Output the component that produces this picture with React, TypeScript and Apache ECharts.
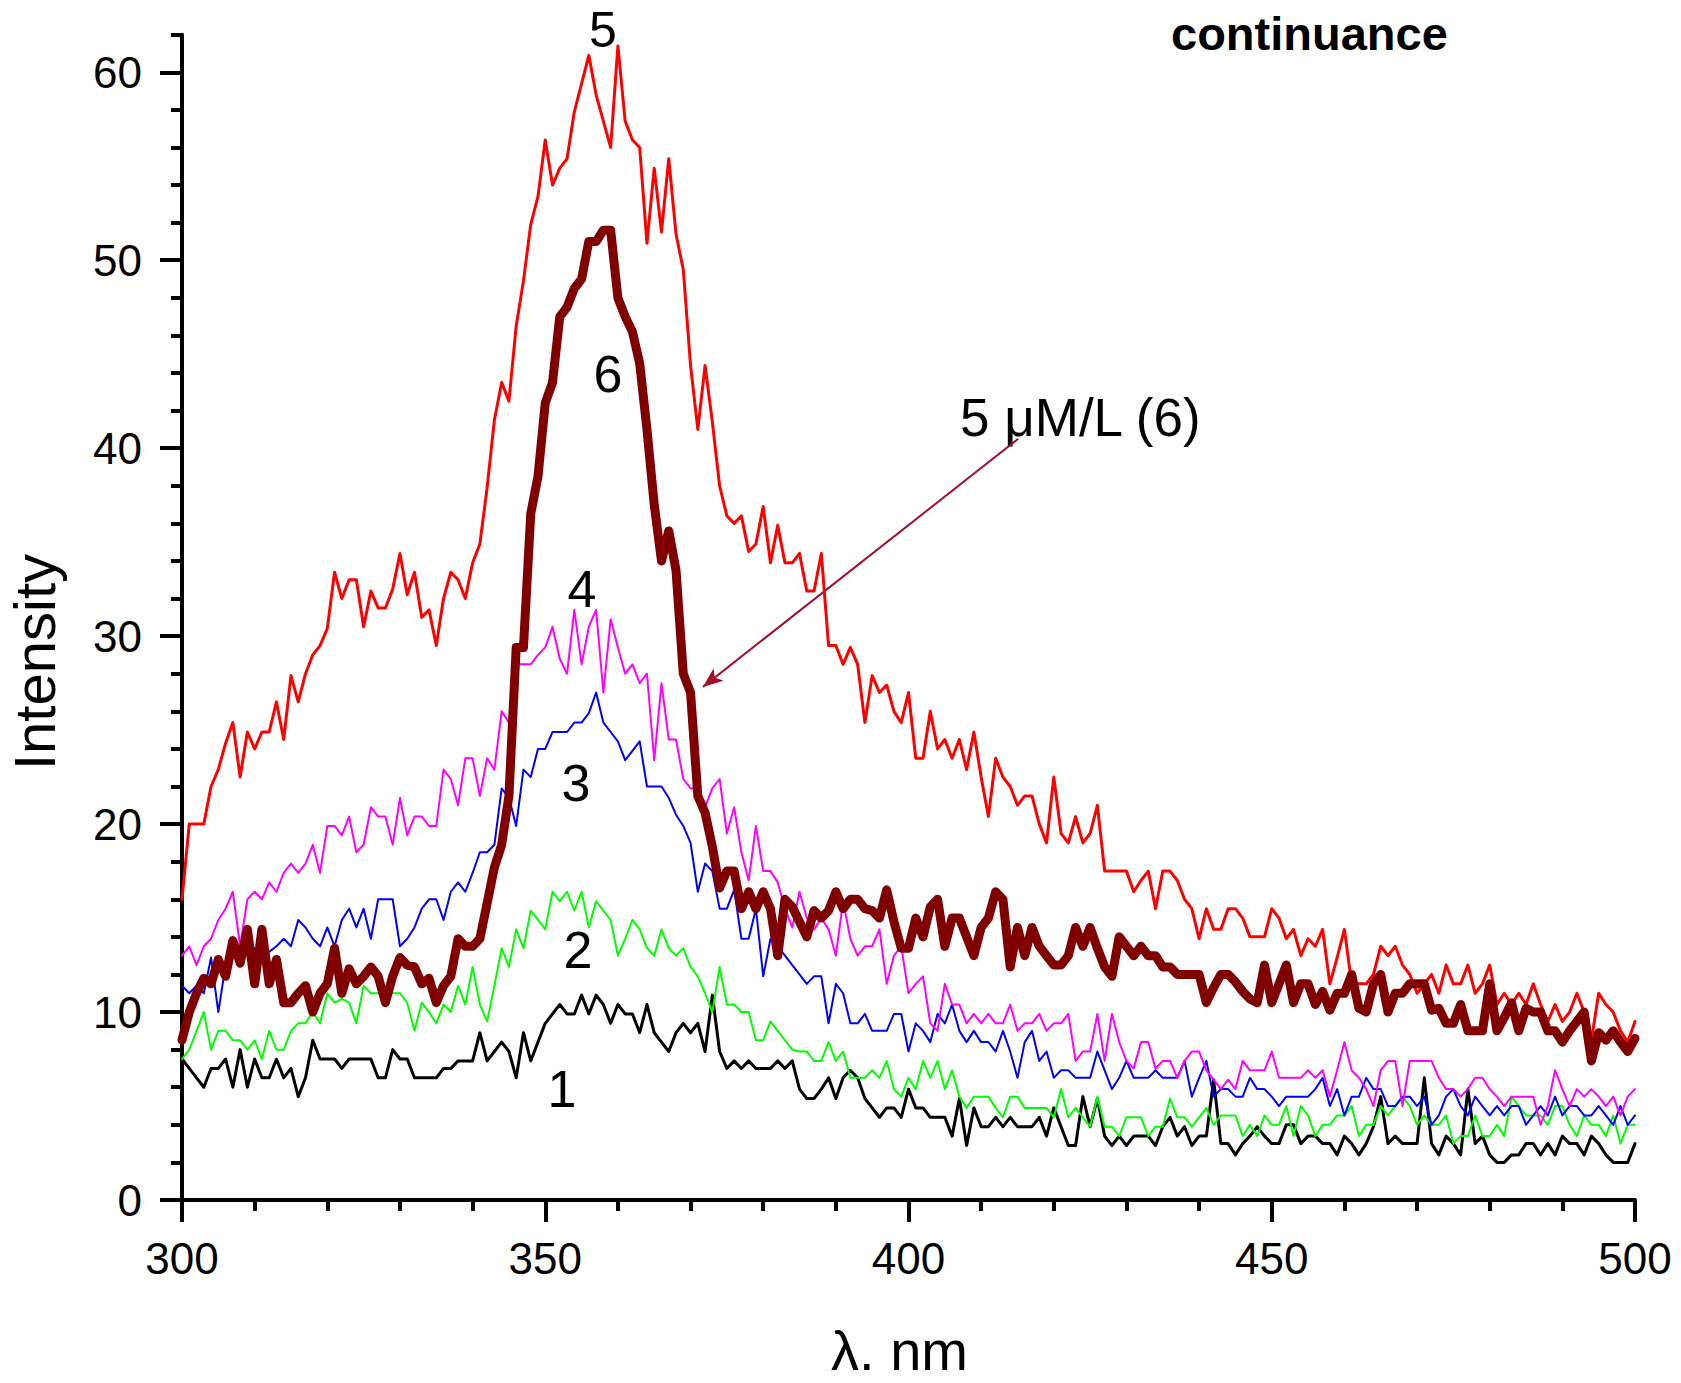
import React, { useEffect, useRef } from "react";
import * as echarts from "echarts";

// Wavelength grid (nm), one reading per nanometre from 300 to 500
const WL_START = 300;
const WL_END = 500;
const wavelengths: number[] = [];
for (let w = WL_START; w <= WL_END; w++) wavelengths.push(w);

// Curve 1 (black)
const curve1 = [
  7.5, 7.0, 6.5, 6.0, 7.0, 7.0, 7.5, 6.0, 8.0, 6.0,
  7.5, 6.5, 6.5, 7.5, 6.5, 7.0, 5.5, 6.5, 8.5, 7.5,
  7.5, 7.5, 7.0, 7.5, 7.5, 7.5, 7.5, 6.5, 6.5, 8.0,
  7.5, 7.5, 6.5, 6.5, 6.5, 6.5, 7.0, 7.0, 7.4, 7.4,
  7.4, 8.9, 7.4, 7.9, 8.4, 7.9, 6.5, 8.9, 7.4, 8.4,
  9.4, 9.9, 10.4, 9.9, 9.9, 10.9, 9.9, 10.9, 10.4, 9.4,
  10.4, 9.9, 9.9, 8.9, 10.4, 8.9, 8.4, 7.9, 8.9, 9.4,
  8.9, 9.4, 7.9, 10.9, 7.9, 7.0, 7.4, 7.0, 7.4, 7.0,
  7.0, 7.0, 7.4, 7.0, 7.4, 5.9, 5.4, 5.4, 5.9, 6.5,
  5.4, 6.5, 6.9, 6.5, 5.4, 4.9, 4.4, 4.9, 4.9, 4.4,
  5.9, 4.9, 4.9, 4.4, 4.4, 4.4, 3.4, 5.4, 2.9, 4.9,
  3.9, 3.9, 4.4, 3.9, 4.4, 3.9, 3.9, 3.9, 4.4, 3.4,
  4.9, 3.9, 2.9, 2.9, 5.5, 3.9, 5.4, 3.4, 2.9, 3.4,
  2.9, 3.4, 3.4, 3.4, 2.9, 3.9, 4.4, 3.4, 3.9, 2.9,
  3.4, 3.4, 6.4, 3.0, 3.0, 2.4, 3.0, 3.4, 3.9, 3.4,
  3.0, 3.0, 4.0, 4.0, 3.0, 3.4, 3.4, 3.0, 3.0, 2.4,
  3.4, 3.0, 2.4, 3.0, 3.9, 5.5, 3.0, 3.4, 3.0, 3.0,
  3.0, 6.5, 3.0, 2.4, 3.4, 3.0, 2.4, 5.9, 3.0, 3.4,
  2.4, 2.0, 2.0, 2.4, 2.4, 3.0, 3.0, 2.4, 3.0, 2.4,
  3.4, 3.0, 3.0, 2.4, 3.4, 3.0, 2.4, 2.0, 2.0, 2.0,
  3.0,
];

// Curve 2 (green)
const curve2 = [
  7.5, 8.0, 9.0, 10.0, 8.0, 9.0, 9.0, 8.5, 8.5, 8.0,
  8.5, 7.5, 9.0, 8.0, 8.0, 9.0, 9.4, 9.4, 10.0, 9.4,
  11.0, 10.5, 10.7, 10.5, 9.4, 11.4, 11.0, 11.0, 11.0, 11.0,
  11.0, 10.5, 9.0, 10.5, 10.0, 9.4, 10.4, 10.0, 11.4, 10.4,
  12.4, 10.4, 9.5, 11.4, 13.4, 12.4, 14.4, 13.4, 15.4, 14.9,
  14.4, 16.4, 15.9, 16.4, 15.4, 16.4, 14.5, 15.9, 15.4, 14.9,
  13.0, 13.9, 14.9, 14.4, 13.4, 13.0, 14.4, 13.4, 13.0, 13.4,
  12.4, 11.9, 11.0, 10.0, 12.4, 10.4, 10.4, 10.0, 10.0, 8.5,
  8.5, 9.5, 9.0, 8.5, 8.0, 7.9, 7.9, 7.4, 7.4, 8.4,
  7.4, 7.9, 6.5, 6.5, 6.5, 6.9, 6.5, 7.4, 5.9, 5.5,
  6.5, 5.9, 7.4, 6.5, 7.4, 5.9, 6.9, 5.5, 4.9, 5.5,
  5.5, 5.5, 4.9, 4.4, 5.5, 5.5, 4.9, 4.9, 4.9, 4.9,
  4.4, 5.9, 4.4, 4.9, 4.4, 3.9, 5.5, 3.9, 3.9, 3.4,
  4.4, 4.4, 4.4, 3.4, 3.9, 3.9, 5.4, 4.4, 4.4, 3.9,
  4.4, 4.9, 4.0, 4.5, 4.5, 4.5, 3.4, 4.0, 3.4, 4.5,
  4.0, 4.0, 5.0, 3.4, 5.0, 4.5, 3.4, 4.0, 4.0, 4.5,
  4.5, 5.0, 3.4, 4.0, 4.0, 5.0, 4.5, 5.0, 5.5, 5.0,
  4.0, 4.5, 4.0, 4.0, 4.5, 3.0, 3.4, 3.4, 4.5, 3.4,
  3.4, 4.0, 3.4, 5.5, 5.0, 4.5, 4.5, 4.5, 4.0, 5.0,
  5.0, 4.0, 3.4, 4.5, 4.0, 4.0, 3.4, 4.5, 3.0, 4.0,
  4.0,
];

// Curve 3 (blue)
const curve3 = [
  11.4, 11.0, 11.4, 11.0, 12.9, 10.0, 12.5, 13.2, 13.3, 13.1,
  13.4, 12.9, 13.2, 13.5, 13.9, 13.5, 14.9, 14.5, 13.9, 13.5,
  14.5, 13.5, 14.9, 15.5, 14.5, 15.5, 13.9, 16.0, 16.0, 16.0,
  13.5, 13.9, 14.5, 15.5, 16.0, 16.0, 14.9, 16.4, 16.9, 16.4,
  17.4, 18.5, 18.5, 18.9, 21.9, 21.4, 19.9, 22.9, 22.5, 24.0,
  24.0, 24.9, 24.9, 24.9, 25.4, 25.4, 25.9, 27.0, 25.4, 24.9,
  24.4, 23.4, 23.9, 24.4, 22.0, 22.0, 22.0, 21.4, 20.5, 19.9,
  19.0, 16.4, 17.9, 17.5, 15.5, 15.5, 16.5, 13.9, 13.9, 15.5,
  11.9, 13.9, 13.5, 13.0, 12.5, 12.0, 11.5, 11.9, 11.9, 9.4,
  11.5, 11.0, 9.4, 9.4, 9.9, 9.0, 9.0, 9.0, 9.9, 9.9,
  7.9, 9.4, 9.0, 8.4, 9.9, 9.4, 10.4, 9.0, 8.4, 9.0,
  8.4, 8.4, 7.9, 9.0, 7.9, 6.5, 8.4, 9.0, 7.4, 7.9,
  6.5, 6.9, 6.9, 6.5, 6.5, 6.5, 7.9, 6.9, 5.9, 6.5,
  7.4, 6.5, 6.5, 6.5, 6.9, 6.5, 6.5, 6.5, 7.4, 5.5,
  6.5, 7.4, 5.5, 5.9, 5.9, 5.5, 5.5, 6.5, 5.9, 5.9,
  5.5, 5.0, 5.5, 5.5, 5.5, 5.5, 5.9, 6.5, 5.0, 5.9,
  4.5, 5.5, 5.5, 6.5, 5.9, 5.9, 5.0, 5.0, 5.5, 5.5,
  5.0, 5.5, 4.0, 4.5, 5.5, 5.9, 5.0, 4.5, 5.5, 5.0,
  4.5, 5.0, 4.5, 5.0, 5.0, 4.0, 4.5, 5.0, 4.5, 5.5,
  4.5, 5.0, 5.0, 4.5, 4.5, 5.0, 4.5, 4.0, 5.0, 4.0,
  4.5,
];

// Curve 4 (magenta)
const curve4 = [
  13.0, 13.5, 12.5, 13.5, 13.9, 14.9, 15.5, 16.4, 13.5, 16.0,
  16.4, 16.0, 16.9, 16.4, 17.4, 17.9, 17.4, 17.9, 18.9, 17.4,
  19.9, 19.9, 19.4, 20.4, 18.5, 18.9, 20.9, 20.4, 20.4, 18.9,
  21.4, 19.4, 20.4, 20.4, 19.9, 19.9, 22.9, 22.4, 21.0, 23.5,
  23.5, 21.5, 23.5, 22.9, 26.0, 25.4, 28.5, 28.5, 28.5, 29.0,
  29.4, 30.5, 28.8, 28.0, 31.4, 28.5, 30.5, 31.4, 27.0, 30.9,
  29.4, 28.0, 28.5, 27.5, 28.0, 23.4, 27.5, 24.5, 24.5, 22.4,
  21.9, 21.9, 20.9, 21.9, 22.4, 19.5, 20.9, 18.5, 17.0, 19.9,
  17.5, 17.5, 16.9, 15.5, 14.5, 16.4, 15.0, 14.4, 15.0, 14.4,
  13.0, 15.9, 13.9, 13.0, 13.5, 13.5, 14.4, 11.5, 13.0, 13.5,
  11.0, 11.5, 11.9, 9.4, 9.0, 11.5, 10.4, 10.4, 9.4, 9.9,
  9.4, 9.9, 9.4, 9.4, 10.4, 9.0, 9.4, 9.4, 9.9, 9.0,
  9.4, 9.4, 9.9, 7.4, 7.9, 7.9, 9.9, 7.4, 9.9, 8.4,
  7.4, 7.0, 8.4, 8.4, 7.0, 7.4, 7.4, 6.5, 7.4, 7.9,
  7.9, 6.9, 6.4, 5.9, 6.4, 5.9, 7.4, 6.9, 6.9, 6.9,
  7.9, 6.5, 6.5, 6.5, 6.5, 6.9, 6.5, 6.9, 5.5, 6.9,
  8.4, 6.9, 6.5, 5.9, 5.0, 6.9, 7.4, 7.4, 5.0, 7.4,
  7.4, 7.4, 7.4, 6.5, 5.9, 5.9, 5.5, 5.9, 6.5, 6.5,
  5.9, 5.5, 5.0, 5.5, 5.5, 5.5, 5.5, 4.0, 5.0, 6.9,
  5.9, 5.0, 5.9, 5.5, 5.9, 5.5, 5.0, 5.5, 4.5, 5.5,
  5.9,
];

// Curve 5 (red)
const curve5 = [
  16.0, 20.0, 20.0, 20.0, 22.0, 22.9, 24.3, 25.4, 22.5, 24.9,
  24.0, 24.9, 24.9, 26.5, 24.5, 27.9, 26.5, 28.0, 29.0, 29.5,
  30.4, 33.4, 32.0, 33.0, 33.0, 30.5, 32.4, 31.5, 31.5, 32.5,
  34.4, 32.2, 33.4, 31.0, 31.4, 29.5, 32.0, 33.4, 33.0, 32.0,
  33.9, 34.9, 37.9, 41.5, 43.5, 42.5, 46.5, 48.9, 51.9, 53.4,
  56.4, 54.0, 54.9, 55.4, 57.9, 59.4, 60.9, 58.8, 57.4, 56.0,
  61.4, 57.4, 56.4, 56.0, 50.9, 54.9, 51.5, 55.4, 51.4, 49.5,
  44.4, 41.0, 44.4, 41.4, 38.0, 36.4, 36.0, 36.4, 34.5, 34.9,
  36.9, 33.9, 35.9, 33.9, 33.9, 34.4, 32.4, 32.4, 34.4, 29.5,
  29.5, 28.5, 29.4, 28.5, 25.4, 27.9, 27.0, 27.4, 26.0, 25.4,
  27.0, 23.5, 23.5, 26.0, 24.0, 24.5, 23.5, 24.5, 22.9, 24.9,
  22.5, 20.4, 23.5, 22.5, 22.0, 21.0, 21.5, 21.5, 20.0, 19.0,
  22.5, 19.5, 19.0, 20.4, 19.0, 19.5, 21.0, 17.5, 17.5, 17.5,
  17.5, 16.4, 17.0, 17.5, 15.5, 17.5, 17.5, 17.0, 16.0, 15.5,
  13.9, 15.5, 14.4, 14.4, 15.5, 15.5, 15.0, 14.0, 14.0, 14.0,
  15.5, 15.0, 13.9, 14.4, 13.0, 13.9, 13.5, 14.4, 11.5, 12.9,
  14.4, 11.5, 11.5, 11.5, 12.0, 13.5, 13.0, 13.5, 12.5, 12.0,
  11.0, 11.5, 12.0, 11.0, 12.5, 11.5, 11.5, 12.5, 11.0, 11.5,
  12.5, 10.4, 11.0, 10.4, 11.0, 10.4, 11.5, 10.4, 9.5, 10.4,
  9.5, 10.0, 11.0, 10.0, 8.5, 11.0, 10.4, 10.0, 9.0, 8.4,
  9.5,
];

// Curve 6 (dark red, thick) - 5 uM/L
const curve6 = [
  8.5, 10.0, 11.0, 11.8, 11.5, 12.8, 11.9, 13.8, 12.6, 14.4,
  11.5, 14.4, 11.5, 12.8, 10.5, 10.5, 11.0, 11.4, 10.0, 11.0,
  11.5, 13.4, 11.0, 12.3, 11.5, 11.9, 12.4, 11.9, 10.5, 11.9,
  12.9, 12.5, 12.4, 11.5, 11.8, 10.5, 11.4, 11.9, 13.9, 13.5,
  13.5, 13.9, 15.8, 17.7, 18.9, 21.5, 29.4, 29.4, 36.5, 38.5,
  42.4, 43.5, 47.0, 47.5, 48.5, 49.0, 51.0, 51.0, 51.6, 51.6,
  48.0, 47.0, 46.2, 44.5, 41.0, 37.0, 34.0, 35.6, 33.5, 28.0,
  27.0, 21.5, 20.6, 18.8, 16.6, 17.5, 17.5, 15.5, 16.4, 15.5,
  16.4, 15.5, 13.0, 16.0, 15.6, 14.8, 14.0, 15.4, 15.0, 15.4,
  16.4, 15.5, 16.0, 16.0, 15.5, 15.4, 15.0, 16.5, 14.8, 13.4,
  13.4, 15.0, 14.0, 15.6, 16.0, 13.5, 15.0, 15.0, 14.0, 13.0,
  14.5, 15.0, 16.4, 16.0, 12.4, 14.5, 13.0, 14.5, 13.5, 13.0,
  12.5, 12.5, 13.0, 14.5, 13.5, 14.5, 13.4, 12.4, 11.9, 14.0,
  13.5, 13.0, 13.5, 13.0, 13.0, 12.4, 12.4, 12.0, 12.0, 12.0,
  12.0, 10.5, 11.3, 12.0, 12.0, 11.6, 11.1, 10.7, 10.5, 12.5,
  10.5, 11.5, 12.5, 10.5, 11.5, 11.5, 10.4, 11.1, 10.1, 11.0,
  11.0, 12.0, 10.2, 10.0, 11.5, 12.0, 10.0, 11.0, 11.0, 11.5,
  11.5, 11.5, 10.1, 10.2, 9.4, 9.4, 10.4, 9.0, 9.0, 9.0,
  11.5, 9.0, 9.7, 10.5, 9.0, 10.2, 10.0, 10.0, 9.0, 9.0,
  8.4, 9.0, 9.5, 10.0, 7.4, 8.9, 8.5, 9.0, 8.4, 7.9,
  8.6,
];

// Axis tick values
const Y_MAJOR = [0, 10, 20, 30, 40, 50, 60];
const Y_MINOR = [2, 4, 6, 8, 12, 14, 16, 18, 22, 24, 26, 28, 32, 34, 36, 38, 42, 44, 46, 48, 52, 54, 56, 58, 62];
const Y_MAX = 62;
const X_INTERVAL = 50;

// Annotation arrow (data coordinates: wavelength, intensity)
const ARROW_FROM = [415.1, 40.5];
const ARROW_TO = [371.7, 27.3];

const FONT = "'Liberation Sans', Arial, Helvetica, sans-serif";

function toPairs(values: number[]) {
  return wavelengths.map((w, i) => [w, values[i]]);
}

export default function App() {
  const ref = useRef<HTMLDivElement>(null);

  useEffect(() => {
    if (!ref.current) return;
    const chart = echarts.init(ref.current, null, { renderer: "svg" });

    const line = (name: string, values: number[], color: string, width: number, z: number, extra: any = {}) => ({
      type: "line",
      name,
      data: toPairs(values),
      showSymbol: false,
      symbol: "none",
      silent: true,
      z,
      lineStyle: { color, width, join: "round", cap: "round" },
      itemStyle: { color },
      ...extra,
    });

    const textEl = (text: string, x: number, y: number, size: number, align: string, extra: any = {}) => ({
      type: "text",
      x,
      y,
      silent: true,
      ...extra,
      style: {
        text,
        fontSize: size,
        fontFamily: FONT,
        fill: "#000",
        align,
        verticalAlign: "middle",
        textAlign: align,
        textVerticalAlign: "middle",
      },
    });

    chart.setOption({
      animation: false,
      backgroundColor: "#ffffff",
      title: {
        text: "continuance",
        left: 1171,
        top: 10,
        padding: 0,
        textStyle: { fontSize: 47, fontWeight: "bold", fontFamily: FONT, color: "#000" },
      },
      grid: { left: 182, right: 46, top: 34.7, bottom: 168.4, containLabel: false },
      xAxis: {
        type: "value",
        min: WL_START,
        max: WL_END,
        interval: X_INTERVAL,
        name: "λ. nm",
        nameLocation: "middle",
        nameGap: 122,
        nameTextStyle: { fontSize: 56, fontFamily: FONT, color: "#000", padding: [0, 18, 0, 0] },
        axisLine: { show: true, lineStyle: { color: "#000", width: 4 } },
        axisTick: { show: true, length: 22, lineStyle: { color: "#000", width: 4 } },
        minorTick: { show: true, splitNumber: 5, length: 11, lineStyle: { color: "#000", width: 4 } },
        axisLabel: { fontSize: 44, fontFamily: FONT, color: "#000", margin: 36 },
        splitLine: { show: false },
        minorSplitLine: { show: false },
      },
      yAxis: [
        {
          type: "value",
          min: 0,
          max: Y_MAX,
          interval: 10,
          position: "left",
          axisLine: { show: true, lineStyle: { color: "#000", width: 4 } },
          axisTick: { show: true, length: 22, customValues: Y_MAJOR, lineStyle: { color: "#000", width: 4 } },
          axisLabel: { fontSize: 44, fontFamily: FONT, color: "#000", margin: 40, customValues: Y_MAJOR },
          splitLine: { show: false },
        },
        {
          type: "value",
          min: 0,
          max: Y_MAX,
          interval: 2,
          position: "left",
          offset: 0,
          axisLine: { show: false },
          axisTick: { show: true, length: 11, customValues: Y_MINOR, lineStyle: { color: "#000", width: 4 } },
          axisLabel: { show: false },
          splitLine: { show: false },
        },
      ],
      series: [
        line("1", curve1, "#000000", 3, 2),
        line("2", curve2, "#00ff00", 2, 3),
        line("3", curve3, "#0000ff", 2, 4),
        line("4", curve4, "#ff00ff", 2, 5),
        line("5", curve5, "#ff0000", 3, 6),
        line("6", curve6, "#800000", 9, 7, {
          markLine: {
            silent: true,
            animation: false,
            symbol: ["none", "arrow"],
            symbolSize: [12, 20],
            label: { show: false },
            lineStyle: { color: "#a0102e", width: 2, type: "solid" },
            data: [[{ coord: ARROW_FROM }, { coord: ARROW_TO }]],
          },
        }),
      ],
      graphic: [
        textEl("Intensity", 34, 662, 58, "center", { rotation: Math.PI / 2 }),
        textEl("5", 603, 30, 50, "center"),
        textEl("6", 608, 374, 52, "center"),
        textEl("4", 582, 589, 52, "center"),
        textEl("3", 576, 783, 52, "center"),
        textEl("2", 578, 950, 52, "center"),
        textEl("1", 562, 1089, 52, "center"),
        textEl("5 μM/L (6)", 960, 417, 53, "left"),
      ],
    });

    return () => {
      chart.dispose();
    };
  }, []);

  return (
    <div
      ref={ref}
      style={{ position: "fixed", left: 0, top: 0, width: 1681, height: 1383, background: "#fff" }}
    />
  );
}
